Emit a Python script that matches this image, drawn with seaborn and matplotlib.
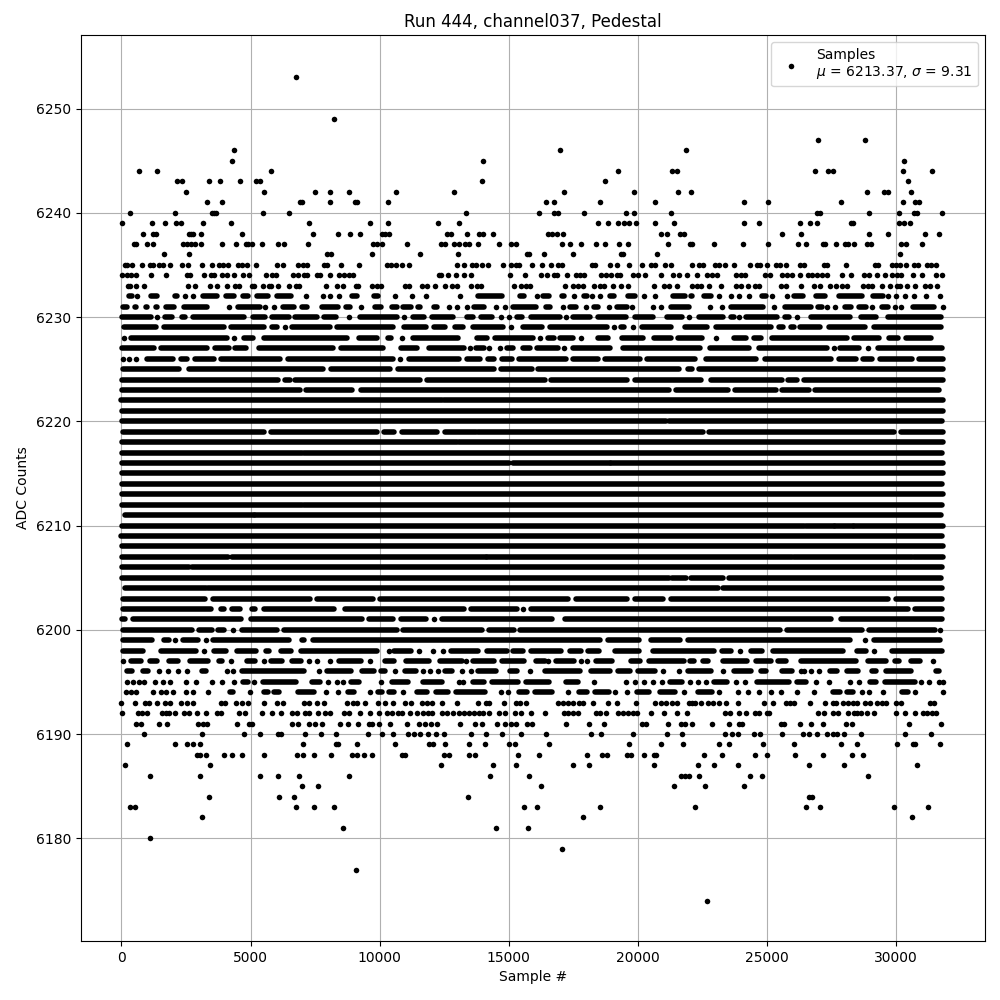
import pandas as pd
import seaborn as sns
import matplotlib.pyplot as plt

# Samples. Sparse ADC levels hold single sample numbers,
# crowded levels hold (first, last) stretches of overlapping samples.
TICKS_X = [0, 5000, 10000, 15000, 20000, 25000, 30000]
TICKS_Y = [6180, 6190, 6200, 6210, 6220, 6230, 6240, 6250]
LABEL = "Samples\n$\\mu$ = 6213.37, $\\sigma$ = 9.31"

HIGH_SAMPLES = {
    6253: [6757],
    6249: [8224],
    6247: [26961, 28808],
    6246: [4363, 16977, 21861],
    6245: [4286, 13992, 30307],
    6244: [695, 1390, 5791, 19225, 21318, 21512, 26846, 27346, 27538, 30269, 31384],
    6243: [2162, 2355, 3398, 3822, 4595, 5199, 5367, 13966, 18721, 30461],
    6242: [2510, 5521, 7490, 8069, 8803, 10618, 12868, 17132, 19845, 21550, 22054, 28884, 29538, 29692, 30577],
    6241: [3320, 3900, 6911, 6988, 8069, 9035, 9112, 10309, 16434, 16744, 18527, 20659, 24115, 25038, 27846, 30269, 30730, 30884],
    6240: [347, 2085, 3513, 3591, 3668, 5483, 6486, 13333, 16163, 16744, 16899, 17907, 19535, 19845, 21279, 26923, 27038, 28961, 30115, 30692, 30807, 31769],
    6239: [39, 1197, 1699, 2124, 2317, 3166, 4247, 7259, 9614, 10309, 12248, 13062, 18450, 18837, 19225, 19457, 19651, 19922, 20659, 21395, 24115, 24692, 26269, 26654, 26923, 28231, 28308, 30115, 30307, 30538],
    6238: [849, 1236, 1351, 2625, 2703, 2780, 3089, 4672, 7413, 8378, 8842, 9228, 10077, 10193, 10347, 12597, 12752, 13372, 13837, 13992, 14380, 16512, 16667, 16860, 17093, 20891, 21124, 21628, 21783, 25577, 26308, 28961, 29692, 31115, 31654],
    6237: [502, 579, 1004, 1236, 2394, 2548, 2703, 2857, 3089, 3900, 4440, 4826, 4903, 5058, 5444, 6062, 6293, 7220, 9730, 9884, 10077, 11047, 12364, 12519, 12868, 13062, 13295, 13450, 13798, 14612, 15078, 15271, 17054, 17364, 17790, 18372, 18721, 19264, 19612, 21163, 22015, 22077, 22962, 24077, 25038, 26192, 26500, 27154, 27231, 27654, 28000, 28115, 28346, 28884, 29038, 30192, 30384, 31000],
    6236: [1660, 2625, 7954, 8108, 9691, 11550, 13023, 15698, 15775, 16357, 17481, 19341, 19419, 20736, 30154],
    6235: [154, 232, 425, 811, 1120, 1236, 1467, 1622, 1892, 2355, 2587, 3127, 3513, 3784, 3938, 4131, 4517, 4672, 4865, 5212, 6023, 6255, 6834, 7027, 7181, 7838, 7954, 8494, 9189, 10270, 10425, 10618, 10853, 11124, 12984, 13255, 13566, 13721, 13953, 14186, 14767, 15078, 15271, 15388, 15891, 16279, 16628, 16899, 17054, 18217, 18333, 18915, 19186, 19651, 20142, 20504, 20659, 21047, 21279, 22077, 22346, 22500, 22999, 23154, 23385, 23731, 24346, 24615, 24731, 25000, 25346, 25500, 25731, 26269, 26423, 27192, 27308, 28038, 29192, 29308, 29846, 30000, 30154, 30384, 30692, 30846, 31192, 31346, 31538],
    6234: [39, 232, 386, 579, 1158, 1737, 2548, 2664, 3205, 3475, 3591, 3900, 4093, 4363, 4710, 4942, 5598, 5830, 5984, 6641, 6834, 7065, 7181, 7567, 7683, 8069, 8417, 8610, 8803, 8957, 12287, 12364, 12636, 12946, 13255, 13527, 15039, 15620, 16240, 16473, 16744, 16860, 17248, 17597, 17752, 17907, 18566, 18760, 18954, 19186, 19302, 19806, 20000, 20271, 20891, 21356, 21589, 21899, 22269, 22654, 22885, 23077, 23808, 24000, 24154, 24923, 25115, 25577, 25769, 25961, 26269, 26577, 26731, 26923, 27115, 27308, 27885, 28231, 28769, 28961, 29269, 29577, 29846, 30038, 30192, 30654, 31000, 31538, 31769],
    6233: [270, 347, 579, 888, 2587, 2857, 3436, 3706, 4093, 4401, 4556, 5058, 5135, 5483, 5714, 5791, 6062, 6486, 6757, 6873, 7915, 8340, 8571, 9073, 9151, 9691, 9884, 10039, 10969, 11124, 11628, 11822, 12132, 12519, 12791, 12985, 13527, 13760, 13915, 15194, 15465, 15659, 15814, 17171, 17481, 17675, 17868, 18295, 18527, 18682, 19031, 19341, 19612, 20620, 21008, 21202, 21512, 22093, 22269, 22423, 22769, 23231, 23808, 24000, 24269, 24538, 24692, 25538, 25731, 26308, 26808, 27038, 27423, 27654, 27885, 28077, 28731, 28923, 29077, 29462, 29769, 30038, 30154, 30423, 30731, 31115, 31308, 31577],
}

LOW_SAMPLES = {
    6193: [0, 541, 927, 1081, 1390, 1699, 1892, 2317, 2548, 2780, 3861, 4016, 4440, 4672, 4903, 5521, 6023, 6255, 7065, 7259, 7568, 7838, 8726, 8957, 9112, 9421, 9923, 10193, 10502, 10970, 11200, 11630, 11820, 12010, 12400, 13010, 13800, 14100, 14250, 14810, 15260, 15450, 15650, 16900, 17090, 17290, 17480, 17700, 17870, 18260, 18840, 19190, 19920, 20660, 20890, 21090, 21320, 21510, 21980, 22090, 22210, 22460, 22730, 22920, 23140, 23420, 23880, 24880, 25230, 25730, 25880, 26040, 26650, 27230, 27540, 27670, 27920, 28120, 28310, 28500, 28810, 29000, 29270, 29460, 29620, 30000, 30190, 31310, 31460],
    6192: [39, 656, 811, 1004, 1583, 1737, 1853, 2085, 2432, 2625, 2934, 3282, 3706, 3861, 4556, 4788, 5444, 5830, 6178, 6602, 6795, 7104, 7259, 7606, 7876, 8069, 8610, 8803, 9228, 9614, 9961, 10270, 10463, 10695, 10870, 11180, 11430, 11670, 11860, 12010, 12400, 12600, 12830, 13060, 13250, 13450, 13640, 13840, 13990, 14250, 14610, 14840, 15230, 15470, 15850, 16410, 17130, 17290, 17480, 17670, 18370, 18530, 18760, 19220, 19420, 19610, 19810, 19960, 20500, 21010, 21510, 21880, 23380, 23580, 23920, 24190, 24540, 24690, 25000, 25080, 26960, 27190, 27540, 27730, 28150, 28350, 28500, 28650, 28880, 29120, 30000, 30350, 30730, 31040, 31190, 31380, 31540],
    6191: [579, 772, 1467, 1776, 2973, 3166, 3320, 4479, 4942, 5058, 6602, 6834, 7259, 7490, 7761, 8455, 8764, 9151, 9575, 9691, 9961, 10386, 11060, 11510, 11740, 11980, 12210, 13100, 13680, 13950, 14530, 14840, 15080, 15270, 15700, 15890, 17210, 18100, 18680, 20150, 20310, 21160, 21670, 21820, 22110, 22850, 23540, 23920, 24040, 25540, 25650, 26270, 26690, 27150, 28040, 28270, 30500, 31730],
    6190: [888, 3127, 4749, 5367, 6062, 6178, 7104, 7722, 8301, 9537, 10077, 10502, 11090, 11320, 11550, 11860, 12170, 12480, 13530, 14110, 14730, 15470, 16430, 18180, 18570, 19810, 21120, 21690, 23380, 23650, 23880, 24500, 24730, 25580, 26380, 26620, 26920, 27310, 27540, 27690, 27960, 28620, 30350, 31350],
    6189: [232, 2085, 2548, 2780, 3050, 7027, 8301, 8378, 9112, 10579, 11900, 12060, 12520, 13450, 14070, 15000, 15230, 16550, 19650, 20890, 21730, 23150, 23540, 24850, 26040, 27880, 28500, 30040, 30650, 30730, 31690],
    6188: [2934, 3050, 3282, 3977, 4286, 4672, 5521, 6795, 7027, 7452, 8108, 8919, 9112, 9382, 9691, 10850, 10970, 12480, 12670, 13450, 13680, 15350, 16160, 18020, 18600, 18800, 19570, 19730, 20230, 20620, 20700, 22540, 23270, 24540, 25000, 26080, 27150, 28270, 28730],
    6187: [154, 3436, 12360, 14380, 15270, 17480, 18100, 20620, 22310, 22960, 23880, 26620, 27960, 30810],
    6186: [1120, 3050, 5367, 6062, 6873, 8803, 14260, 15780, 21670, 21820, 21960, 22350, 24350, 24810, 28920],
    6185: [6988, 7606, 16240, 21400, 22580, 24120],
    6184: [3398, 6100, 6680, 13410, 26620, 26730],
    6183: [347, 541, 6757, 7452, 8224, 15580, 16090, 18530, 22190, 26500, 27040, 29920, 31230],
    6182: [3127, 17870, 30620],
    6181: [8571, 14500, 15740],
    6180: [1120],
    6179: [17050],
    6177: [9073],
    6174: [22690],
}

BAND_RUNS = {
    6232: [(300, 400), (620, 620), (1150, 1360), (2070, 2140), (2470, 2470), (2780, 2780), (3150, 3720), (4040, 4340), (4700, 4920), (5240, 5690), (6010, 6580), (7140, 7140), (7790, 7790), (8070, 8070), (8420, 8420), (8940, 9120), (9790, 9940), (10580, 10580), (11250, 11250), (11780, 11780), (13100, 13100), (13790, 14730), (15450, 15590), (16090, 16090), (16340, 16560), (17040, 17120), (17520, 17520), (17910, 18020), (18230, 18230), (18530, 18530), (18900, 19060), (19600, 19900), (20230, 20230), (20660, 20660), (21340, 21830), (22050, 22080), (22560, 22820), (23150, 23150), (23620, 23620), (23920, 23920), (24310, 24310), (24820, 24970), (25190, 25190), (25770, 25770), (26030, 26380), (26910, 27240), (27790, 28690), (29100, 29490), (29690, 29690), (30000, 30000), (30350, 30350), (30700, 30700), (31140, 31140), (31690, 31690)],
    6231: [(50, 210), (530, 550), (950, 1000), (1340, 1390), (1720, 2030), (2410, 3320), (4170, 4170), (4530, 5380), (5570, 5570), (5910, 5910), (6270, 6670), (6980, 7180), (7770, 8400), (8700, 8850), (9290, 9290), (9830, 10040), (10490, 10670), (10900, 11220), (11490, 11570), (12100, 12220), (12690, 12690), (12990, 12990), (13380, 13380), (13670, 14020), (14500, 14500), (14850, 14850), (15170, 16040), (16440, 16600), (17080, 17080), (17360, 17590), (17980, 17980), (18310, 18470), (18890, 18890), (19190, 19560), (19760, 19760), (20580, 20580), (20890, 20890), (21260, 21990), (22770, 22770), (23240, 23240), (23600, 24850), (25270, 25270), (25680, 26690), (26960, 27120), (27320, 27320), (27640, 27640), (28030, 28230), (28560, 28820), (29080, 29080), (29440, 29680), (29940, 29940), (30200, 30200), (30650, 31450), (31810, 31810)],
    6230: [(30, 1130), (1360, 1360), (1690, 1970), (2330, 2480), (2790, 4740), (5110, 5570), (5840, 6470), (6740, 7570), (7840, 8310), (8830, 8830), (9250, 10670), (10930, 10930), (11290, 11700), (12010, 12830), (13390, 13630), (13940, 14340), (14690, 14690), (15000, 15000), (15320, 15500), (15860, 16980), (17200, 17200), (17470, 18150), (18450, 19540), (19900, 20590), (21130, 21690), (21990, 21990), (22380, 23310), (23600, 23720), (23920, 23920), (24180, 25380), (25690, 25830), (26170, 26170), (26710, 28200), (28630, 29230), (29690, 31730)],
    6229: [(90, 1330), (1630, 3960), (4260, 5510), (5820, 6020), (6320, 6320), (6620, 8080), (8350, 10510), (10940, 11790), (12100, 12540), (12910, 13220), (13610, 14790), (15100, 15100), (15540, 16280), (16610, 18790), (19090, 19090), (19360, 19460), (19800, 19800), (20160, 21280), (21810, 22690), (23030, 25150), (25460, 25620), (25910, 26030), (26260, 27050), (27380, 28780), (29120, 31730)],
    6228: [(90, 90), (370, 4070), (4350, 4350), (4760, 5100), (5530, 8730), (9200, 9880), (10320, 10440), (10880, 10880), (11300, 13050), (13780, 14150), (14460, 15950), (16210, 16210), (16520, 16730), (17000, 17500), (17800, 17800), (18450, 18830), (19380, 20210), (20610, 21260), (21550, 22490), (23030, 23030), (23730, 24170), (24500, 24770), (25200, 28080), (28370, 29330), (29720, 30060), (30360, 31350)],
    6227: [(10, 1260), (1530, 3320), (3620, 4160), (4400, 4840), (5330, 8190), (8520, 10120), (10500, 10510), (10810, 11440), (11910, 13250), (13480, 13480), (13740, 14020), (14230, 14230), (14640, 14640), (14940, 15180), (15550, 15820), (16100, 16920), (17130, 17130), (17490, 18920), (19410, 22420), (22790, 24290), (24670, 27310), (27580, 27580), (27830, 28560), (28920, 28920), (29310, 31770)],
    6226: [(50, 50), (310, 310), (580, 580), (980, 2010), (2300, 2550), (2840, 3580), (3850, 6130), (6450, 10530), (10800, 10800), (11130, 13090), (13390, 13870), (14190, 14430), (14720, 15120), (15390, 17220), (17490, 18470), (18740, 20080), (20350, 22220), (22640, 24560), (24900, 27460), (27770, 28460), (28720, 29080), (29370, 30620), (30870, 31800)],
    6225: [(80, 2230), (2600, 7800), (8100, 10400), (10690, 14410), (14680, 15890), (16130, 21580), (21920, 22100), (22360, 31800)],
    6224: [(30, 6060), (6330, 6510), (6710, 11570), (11820, 16390), (16650, 19590), (19870, 22460), (22810, 25580), (25810, 26150), (26410, 31800)],
    6223: [(40, 6900), (7160, 8920), (9290, 21190), (21460, 23500), (23760, 25350), (25590, 26620), (26870, 31640)],
    6222: [(0, 12400), (12500, 31820)],
    6221: [(10, 31800)],
    6220: [(40, 21100), (21200, 31780)],
    6219: [(50, 5510), (5780, 9880), (10150, 10570), (10850, 12220), (12510, 13740), (13800, 22500), (22740, 29900), (30170, 31800)],
    6218: [(20, 13000), (13060, 31820)],
    6217: [(30, 7000), (7060, 31780)],
    6216: [(30, 15000), (15170, 18900), (18950, 31800)],
    6215: [(30, 31800)],
    6214: [(30, 31780)],
    6213: [(20, 31820)],
    6212: [(40, 7000), (7060, 31780)],
    6211: [(130, 5130), (5190, 31750)],
    6210: [(10, 26420), (26490, 27580), (27640, 28310), (28360, 31800)],
    6209: [(0, 31780)],
    6208: [(20, 31820)],
    6207: [(20, 4110), (4270, 14100), (14140, 25970), (26050, 30620), (30680, 31820)],
    6206: [(20, 2620), (2720, 31780)],
    6205: [(10, 21190), (21330, 21860), (22050, 23300), (23540, 31730)],
    6204: [(130, 3280), (3370, 23100), (23280, 31780)],
    6203: [(80, 3220), (3530, 7310), (7580, 9730), (10030, 17310), (17620, 19590), (19900, 20960), (21260, 29680), (29990, 31780)],
    6202: [(80, 3450), (3870, 3960), (4270, 4610), (5040, 5190), (5520, 8240), (8650, 13250), (13520, 15310), (15540, 15540), (15840, 30450), (30740, 31770)],
    6201: [(10, 130), (440, 4630), (5010, 9300), (9600, 10510), (10810, 11800), (12100, 12100), (12400, 16660), (17170, 27470), (27870, 31770)],
    6200: [(80, 2740), (2990, 3510), (3750, 3960), (4330, 4330), (4660, 6020), (6290, 10670), (10900, 13960), (14230, 15210), (15450, 25510), (25780, 28690), (28950, 31510), (31700, 31700)],
    6199: [(80, 1200), (1630, 1840), (2080, 2080), (2370, 2970), (3280, 3280), (3530, 6470), (6980, 7080), (7410, 18540), (18850, 20030), (20490, 21640), (21950, 28200), (28780, 28780), (29150, 31690)],
    6198: [(50, 850), (1530, 2900), (3190, 3190), (3600, 4030), (4490, 5210), (5590, 5730), (6190, 6560), (6940, 9880), (10350, 10350), (10560, 11200), (11540, 11540), (12060, 12060), (12450, 12450), (12780, 13820), (14160, 14920), (15170, 15540), (15840, 17020), (17350, 17790), (18050, 18510), (19100, 20030), (20590, 22950), (23240, 23620), (23970, 23970), (24370, 24810), (25240, 27950), (28470, 28820), (29150, 29150), (29820, 31770)],
    6197: [(80, 80), (370, 770), (1090, 1390), (1830, 2200), (2640, 3360), (3760, 3900), (4260, 4260), (4880, 5160), (5520, 5520), (5790, 6220), (6620, 6950), (7260, 7260), (7570, 7570), (8060, 8060), (8440, 9270), (9610, 9610), (10220, 10570), (11020, 11890), (12350, 13200), (13350, 13350), (13600, 14440), (14740, 15570), (16070, 16410), (16520, 16520), (16830, 17510), (17800, 17800), (18020, 18020), (18360, 18990), (19720, 20090), (20430, 21770), (22030, 22180), (22510, 22720), (23280, 24230), (24560, 25150), (25440, 25730), (26330, 28460), (28900, 29590), (29950, 30100), (30590, 30920), (31420, 31420)],
    6196: [(210, 400), (820, 1040), (1470, 1470), (1790, 1790), (2200, 2200), (2520, 2520), (3110, 3290), (4090, 4090), (4310, 4310), (4650, 7050), (7640, 7640), (7970, 8890), (9320, 9780), (10060, 10210), (10580, 10580), (10970, 11400), (11670, 11670), (11930, 11930), (12250, 12250), (12540, 12790), (13170, 13170), (13540, 13540), (13810, 14510), (15030, 15310), (15830, 15830), (16400, 17740), (18170, 18930), (19240, 19700), (20010, 20670), (20980, 20980), (21580, 21580), (21940, 22820), (23310, 23310), (23730, 24380), (24760, 24970), (25590, 25960), (26320, 26320), (26420, 26420), (26690, 26690), (27000, 27000), (27450, 27690), (28090, 28530), (29050, 29230), (29590, 30580), (31550, 31640)],
    6195: [(232, 232), (463, 463), (695, 695), (888, 888), (1313, 1313), (1622, 1622), (1892, 1892), (2510, 2510), (2896, 2896), (3513, 3513), (3900, 3900), (4363, 4363), (4710, 4900), (5135, 5135), (5480, 6760), (7390, 7670), (8000, 8000), (8340, 8340), (8570, 8570), (8870, 9210), (10050, 10050), (10480, 11090), (11670, 12430), (13060, 13060), (13220, 13220), (13620, 14040), (14350, 15340), (15650, 16540), (17220, 17660), (18310, 18310), (19550, 19550), (19880, 19880), (20230, 20230), (20580, 20580), (20930, 20930), (21230, 21710), (22030, 22030), (22330, 22330), (22650, 22650), (22940, 23460), (23810, 23810), (24150, 24150), (24590, 25830), (26140, 26510), (26910, 26910), (27380, 27380), (28200, 28200), (28540, 28540), (28990, 29200), (29560, 30710), (30940, 30940), (31260, 31260), (31650, 31650), (31800, 31800)],
    6194: [(193, 193), (386, 386), (579, 579), (1236, 1236), (1544, 1544), (1737, 1737), (2008, 2008), (2510, 2510), (2780, 2780), (3333, 3333), (4208, 4324), (4981, 4981), (5521, 5676), (5907, 6100), (6834, 7452), (7915, 7915), (8378, 8378), (8764, 8996), (9614, 9614), (9923, 10077), (10347, 10553), (10890, 10890), (11450, 11820), (12180, 12660), (12970, 14080), (14700, 14700), (14960, 14960), (15390, 15700), (16010, 16670), (17290, 17290), (17710, 18020), (18330, 18890), (19120, 19120), (19590, 19590), (19970, 20410), (20840, 21450), (21780, 21780), (22320, 22870), (23150, 23150), (23880, 23880), (24270, 24270), (24690, 24690), (25150, 25150), (25540, 25540), (26150, 26150), (26810, 26810), (27550, 27820), (28090, 28330), (28680, 28680), (28960, 28960), (29500, 29500), (30230, 30450), (30720, 30720), (31810, 31810)],
}

points = []
runs = []
for level, samples in list(HIGH_SAMPLES.items()) + list(LOW_SAMPLES.items()):
    points += [(x, level) for x in samples]
for level, stretches in BAND_RUNS.items():
    for first, last in stretches:
        if first == last:
            points.append((first, level))
        else:
            run_id = len(runs) // 2
            runs += [(run_id, first, level), (run_id, last, level)]

points_df = pd.DataFrame(points, columns=["sample", "adc"])
runs_df = pd.DataFrame(runs, columns=["run", "sample", "adc"])

fig, ax = plt.subplots(figsize=(10, 10), dpi=100)
fig.subplots_adjust(left=0.081, right=0.985, top=0.965, bottom=0.059)

sns.lineplot(data=runs_df, x="sample", y="adc", units="run", estimator=None, sort=False,
             color="k", linewidth=4.0, solid_capstyle="round", legend=False, ax=ax)
sns.scatterplot(data=points_df, x="sample", y="adc", color="k", marker="o", s=16,
                linewidth=0, label=LABEL, ax=ax)

ax.set_xlim(-1565, 33437)
ax.set_ylim(6170.15, 6257.05)
ax.set_xticks(TICKS_X)
ax.set_yticks(TICKS_Y)
ax.grid(True)
ax.set_axisbelow(True)
ax.set(xlabel="Sample #", ylabel="ADC Counts", title="Run 444, channel037, Pedestal")
ax.legend(loc="upper right")

plt.savefig("out.png", dpi=100)
